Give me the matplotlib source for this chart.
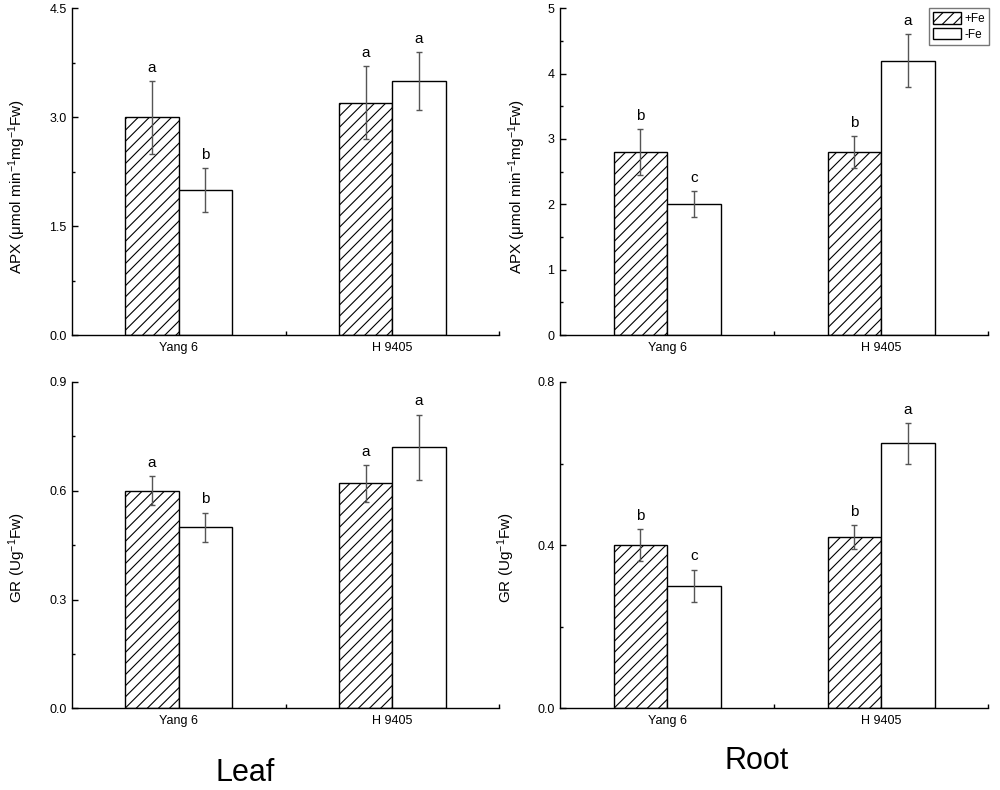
import matplotlib
matplotlib.use("Agg")
import matplotlib.pyplot as plt
from matplotlib.ticker import MultipleLocator, FormatStrFormatter, FixedLocator
import numpy as np

plt.rcParams['font.family'] = ['Liberation Sans', 'DejaVu Sans']
plt.rcParams['mathtext.fontset'] = 'custom'
plt.rcParams['mathtext.rm'] = 'Liberation Sans'
plt.rcParams['mathtext.it'] = 'Liberation Sans:italic'
plt.rcParams['hatch.color'] = '#444444'
plt.rcParams['hatch.linewidth'] = 0.8

# ---------------- data ----------------
cultivars = ["Yang 6", "H 9405"]
treatments = ["+Fe", "-Fe"]

leaf_apx_plus = [3.0, 3.2]
leaf_apx_plus_err = [0.5, 0.5]
leaf_apx_minus = [2.0, 3.5]
leaf_apx_minus_err = [0.3, 0.4]
leaf_apx_letters_plus = ["a", "a"]
leaf_apx_letters_minus = ["b", "a"]

root_apx_plus = [2.8, 2.8]
root_apx_plus_err = [0.35, 0.25]
root_apx_minus = [2.0, 4.2]
root_apx_minus_err = [0.2, 0.4]
root_apx_letters_plus = ["b", "b"]
root_apx_letters_minus = ["c", "a"]

leaf_gr_plus = [0.60, 0.62]
leaf_gr_plus_err = [0.04, 0.05]
leaf_gr_minus = [0.50, 0.72]
leaf_gr_minus_err = [0.04, 0.09]
leaf_gr_letters_plus = ["a", "a"]
leaf_gr_letters_minus = ["b", "a"]

root_gr_plus = [0.40, 0.42]
root_gr_plus_err = [0.04, 0.03]
root_gr_minus = [0.30, 0.65]
root_gr_minus_err = [0.04, 0.05]
root_gr_letters_plus = ["b", "b"]
root_gr_letters_minus = ["c", "a"]

apx_label = "APX (\u03bcmol min$^{-1}$mg$^{-1}$Fw)"
gr_label = "GR (Ug$^{-1}$Fw)"

# ---------------- figure ----------------
fig = plt.figure(figsize=(10, 7.9), dpi=100)

panels = [
    ([0.072, 0.5759, 0.427, 0.4136], leaf_apx_plus, leaf_apx_plus_err, leaf_apx_minus, leaf_apx_minus_err,
     leaf_apx_letters_plus, leaf_apx_letters_minus, apx_label, 4.5, 1.5, 0.75, "%.1f", -0.103, 0.456),
    ([0.560, 0.5759, 0.428, 0.4136], root_apx_plus, root_apx_plus_err, root_apx_minus, root_apx_minus_err,
     root_apx_letters_plus, root_apx_letters_minus, apx_label, 5.0, 1.0, 0.5, "%d", -0.075, 0.456),
    ([0.072, 0.1034, 0.427, 0.4131], leaf_gr_plus, leaf_gr_plus_err, leaf_gr_minus, leaf_gr_minus_err,
     leaf_gr_letters_plus, leaf_gr_letters_minus, gr_label, 0.9, 0.3, 0.15, "%.1f", -0.103, 0.462),
    ([0.560, 0.1034, 0.428, 0.4131], root_gr_plus, root_gr_plus_err, root_gr_minus, root_gr_minus_err,
     root_gr_letters_plus, root_gr_letters_minus, gr_label, 0.8, 0.4, 0.2, "%.1f", -0.100, 0.462),
]

x = np.arange(len(cultivars)) + 0.5
w = 0.25
err_kw = dict(ecolor="#555555", elinewidth=1.0, capsize=2.5, capthick=1.0)

legend_handles = None
for (rect, p, pe, m, me, lp, lm, ylab, ymax, major, minor, fmt, lx, ly) in panels:
    ax = fig.add_axes(rect)
    b1 = ax.bar(x - w / 2, p, w, yerr=pe, facecolor="white", edgecolor="black",
                linewidth=1.0, hatch="///", error_kw=err_kw, label=treatments[0])
    b2 = ax.bar(x + w / 2, m, w, yerr=me, facecolor="white", edgecolor="black",
                linewidth=1.0, error_kw=err_kw, label=treatments[1])
    if legend_handles is None:
        legend_handles = (b1, b2)
    for xi, v, e, t in zip(x - w / 2, p, pe, lp):
        ax.annotate(t, (xi, v + e), xytext=(0, 9.5), textcoords="offset points",
                    ha="center", va="center", fontsize=11)
    for xi, v, e, t in zip(x + w / 2, m, me, lm):
        ax.annotate(t, (xi, v + e), xytext=(0, 9.5), textcoords="offset points",
                    ha="center", va="center", fontsize=11)

    ax.set_xlim(0, 2)
    ax.set_ylim(0, ymax)
    ax.spines["top"].set_visible(False)
    ax.spines["right"].set_visible(False)
    ax.spines["left"].set_linewidth(1.0)
    ax.spines["bottom"].set_linewidth(1.0)

    ax.set_xticks(x)
    ax.set_xticklabels(cultivars, fontsize=9)
    ax.xaxis.set_minor_locator(FixedLocator([1.0, 2.0]))
    ax.tick_params(axis="x", which="major", length=0, pad=5)
    ax.tick_params(axis="x", which="minor", direction="in", length=3, width=1)

    ax.yaxis.set_major_locator(MultipleLocator(major))
    ax.yaxis.set_minor_locator(MultipleLocator(minor))
    ax.yaxis.set_major_formatter(FormatStrFormatter(fmt))
    ax.tick_params(axis="y", which="major", direction="in", length=4, width=1, labelsize=9, pad=4)
    ax.tick_params(axis="y", which="minor", direction="in", length=2, width=1)

    ax.set_ylabel(ylab, fontsize=11)
    ax.yaxis.set_label_coords(lx, ly)

    if rect[0] > 0.5 and rect[1] > 0.5:
        leg = ax.legend(handles=list(legend_handles), labels=treatments, loc="upper right",
                        bbox_to_anchor=(1.003, 1.0), fontsize=8.5, frameon=True,
                        fancybox=False, borderpad=0.35, labelspacing=0.25,
                        handlelength=2.4, handleheight=1.1, handletextpad=0.3,
                        borderaxespad=0)
        leg.get_frame().set_edgecolor("#555555")
        leg.get_frame().set_linewidth(1.0)

fig.text(0.245, 1 - 781 / 790, "Leaf", fontsize=22, ha="center", va="baseline")
fig.text(0.757, 1 - 769 / 790, "Root", fontsize=22, ha="center", va="baseline")

fig.savefig("out.png", dpi=100, facecolor="white")
